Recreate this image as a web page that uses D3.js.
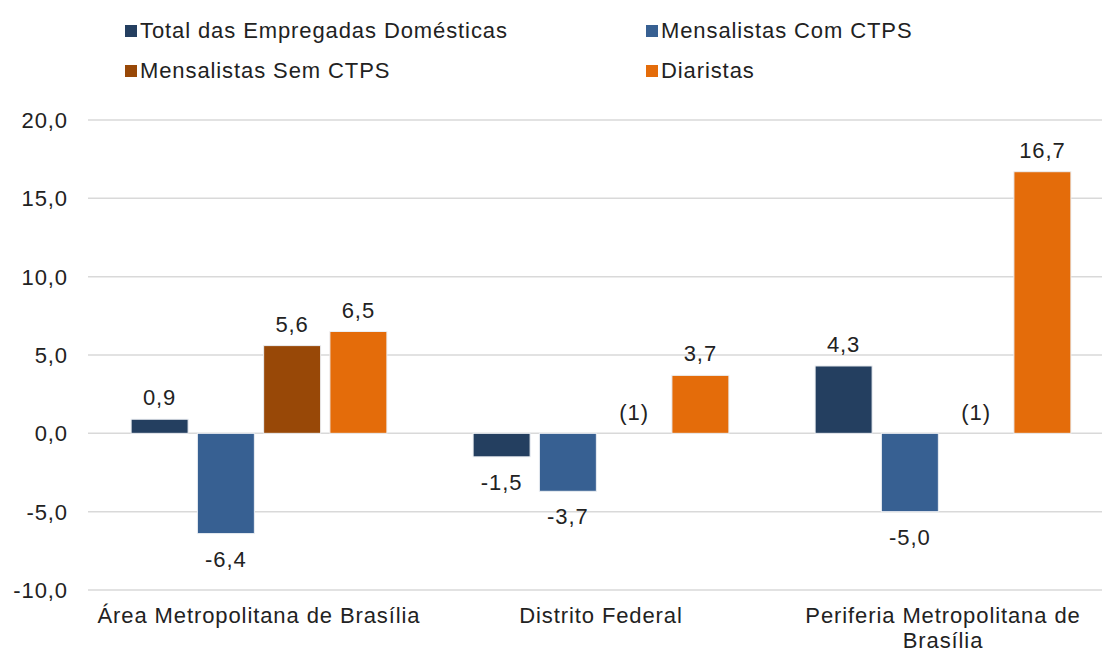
<!DOCTYPE html>
<meta charset="utf-8">
<style>

body {
  margin: 0;
  background-color: white;
  overflow: hidden;
}

text {
  font-family: "Liberation Sans", Arial, sans-serif;
  font-size: 22px;
  letter-spacing: 0.9px;
  fill: #222;
}

.grid line {
  stroke: #d9d9d9;
  stroke-width: 1.5;
}

</style>
<body>

<script src="https://d3js.org/d3.v7.min.js"></script>
<script>

var categories = ["Área Metropolitana de Brasília", "Distrito Federal", "Periferia Metropolitana de Brasília"];
var seriesNames = ["Total das Empregadas Domésticas", "Mensalistas Com CTPS", "Mensalistas Sem CTPS", "Diaristas"];
var seriesColors = ["#243f60", "#376092", "#984807", "#e46c0a"];

var totalEmpregadas = [0.9, -1.5, 4.3];
var mensalistasCom = [-6.4, -3.7, -5.0];
var mensalistasSem = [5.6, null, null];   // null -> "(1)"
var diaristas = [6.5, 3.7, 16.7];

var yTicks = [-10, -5, 0, 5, 10, 15, 20];

var width = 1102,
    height = 655;

var svg = d3.select("body").append("svg")
    .attr("width", width)
    .attr("height", height);

var series = [totalEmpregadas, mensalistasCom, mensalistasSem, diaristas];

var y = d3.scaleLinear()
    .domain([-10, 20])
    .range([590, 120]);

// plot area runs a bit past the right edge of the picture
var x0 = d3.scaleBand()
    .domain(categories)
    .range([88, 1114])
    .paddingInner(0.225)
    .paddingOuter(0.1125);

var x1 = d3.scaleBand()
    .domain(d3.range(seriesNames.length))
    .range([0, x0.bandwidth()])
    .paddingInner(0.14)
    .paddingOuter(0.07);

var locale = d3.formatLocale({decimal: ",", thousands: ".", grouping: [3], currency: ["", ""], minus: "-"});
var fmt = locale.format(".1f");

// grid
svg.append("g")
    .attr("class", "grid")
  .selectAll("line")
    .data(yTicks)
  .enter().append("line")
    .attr("x1", 88)
    .attr("x2", width)
    .attr("y1", function(d) { return y(d); })
    .attr("y2", function(d) { return y(d); });

// y labels
svg.append("g")
  .selectAll("text")
    .data(yTicks)
  .enter().append("text")
    .attr("x", 68)
    .attr("y", function(d) { return y(d) + 8; })
    .attr("text-anchor", "end")
    .text(fmt);

// bars
var cells = [];
categories.forEach(function(c, i) {
  series.forEach(function(s, j) {
    cells.push({cat: c, s: j, v: s[i]});
  });
});

var g = svg.append("g");

g.selectAll("rect")
    .data(cells.filter(function(d) { return d.v != null; }))
  .enter().append("rect")
    .attr("x", function(d) { return x0(d.cat) + x1(d.s); })
    .attr("width", x1.bandwidth())
    .attr("y", function(d) { return y(Math.max(0, d.v)); })
    .attr("height", function(d) { return Math.abs(y(d.v) - y(0)); })
    .attr("fill", function(d) { return seriesColors[d.s]; })
    .attr("stroke", "#eceff3")
    .attr("stroke-width", 1);

g.selectAll("text")
    .data(cells)
  .enter().append("text")
    .attr("x", function(d) { return x0(d.cat) + x1(d.s) + x1.bandwidth() / 2; })
    .attr("y", function(d) {
      if (d.v == null) return y(0) - 13;
      return d.v >= 0 ? y(d.v) - 14 : y(d.v) + 33;
    })
    .attr("text-anchor", "middle")
    .text(function(d) { return d.v == null ? "(1)" : fmt(d.v); });

// category labels, wrapped like the original
var catLines = {
  "Área Metropolitana de Brasília": ["Área Metropolitana de Brasília"],
  "Distrito Federal": ["Distrito Federal"],
  "Periferia Metropolitana de Brasília": ["Periferia Metropolitana de", "Brasília"]
};

svg.append("g")
  .selectAll("text")
    .data(categories)
  .enter().append("text")
    .attr("text-anchor", "middle")
    .attr("transform", function(d) { return "translate(" + (x0(d) + x0.bandwidth() / 2) + ",623)"; })
    .each(function(d) {
      d3.select(this).selectAll("tspan")
          .data(catLines[d])
        .enter().append("tspan")
          .attr("x", 0)
          .attr("dy", function(l, i) { return i ? 25 : 0; })
          .text(function(l) { return l; });
    });

// legend
var legendPos = [[125, 38], [646, 38], [125, 78], [646, 78]];

var legend = svg.append("g")
  .selectAll("g")
    .data(seriesNames)
  .enter().append("g")
    .attr("transform", function(d, i) { return "translate(" + legendPos[i] + ")"; });

legend.append("rect")
    .attr("x", 0)
    .attr("y", -13)
    .attr("width", 12)
    .attr("height", 12)
    .attr("fill", function(d, i) { return seriesColors[i]; });

legend.append("text")
    .attr("x", 15)
    .attr("y", 0)
    .text(function(d) { return d; });

</script>
